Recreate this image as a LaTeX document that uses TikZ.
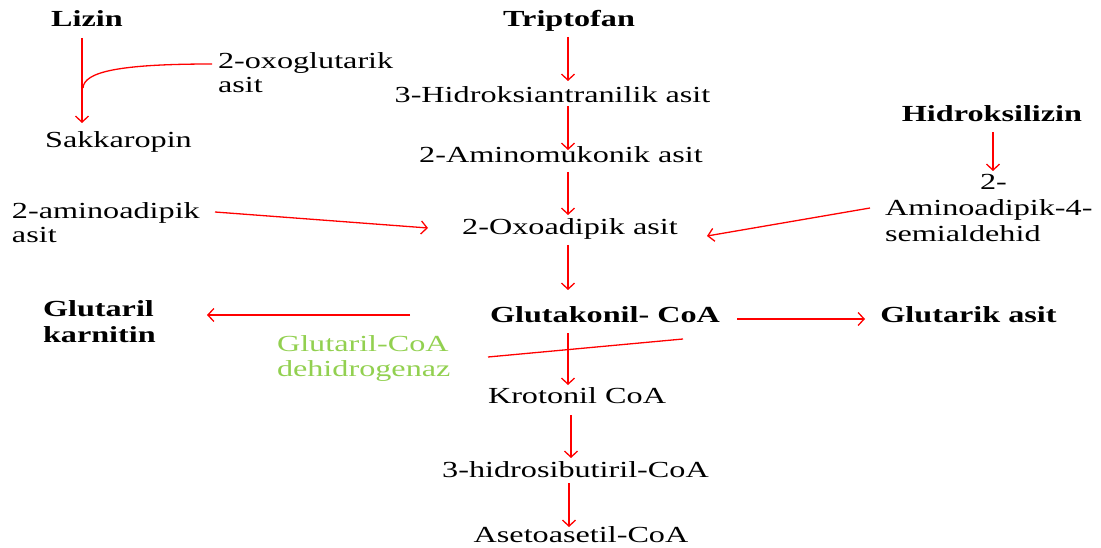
\documentclass[tikz,border=0pt]{standalone}
\usepackage{fontspec}
\setmainfont{Liberation Serif}[FakeStretch=1.4]
\usetikzlibrary{arrows.meta,calc}
\definecolor{arrred}{RGB}{255,0,0}
\definecolor{enzgreen}{RGB}{146,208,80}
\begin{document}
\begin{tikzpicture}[x=1pt,y=-1pt,
  txt/.style={inner sep=0pt,outer sep=0pt,font=\fontsize{23}{25}\selectfont,text height=16pt,text depth=5pt},
  mtxt/.style={inner sep=0pt,outer sep=0pt,font=\fontsize{23}{25}\selectfont,align=left},
  arr/.style={draw=arrred,line width=1.3pt,-{Straight Barb[length=6pt,width=13pt]}},
  ln/.style={draw=arrred,line width=1.3pt}]
\useasboundingbox (0,0) rectangle (1101,548);
% nodes
\node[txt,anchor=base] (lizin) at (87,27) {\bfseries Lizin};
\node[txt,anchor=base] (sakk) at (118.5,148) {Sakkaropin};
\node[mtxt,anchor=base west,font=\fontsize{23}{24}\selectfont] (oxog) at (218,93) {2-oxoglutarik\\asit};
\node[txt,anchor=base] (trip) at (569,27) {\bfseries Triptofan};
\node[txt,anchor=base] (h3) at (552.5,103) {3-Hidroksiantranilik asit};
\node[txt,anchor=base] (amino) at (561,163) {2-Aminomukonik asit};
\node[txt,anchor=base] (oxo) at (570,235) {2-Oxoadipik asit};
\node[txt,anchor=base] (gk) at (605,323) {\bfseries Glutakonil- CoA};
\node[txt,anchor=base] (krot) at (577,403) {Krotonil CoA};
\node[txt,anchor=base] (hsb) at (575.5,477) {3-hidrosibutiril-CoA};
\node[txt,anchor=base] (aset) at (581,542) {Asetoasetil-CoA};
\node[txt,anchor=base] (gtar) at (968.5,323) {\bfseries Glutarik asit};
\node[txt,anchor=base] (hlys) at (992,122) {\bfseries Hidroksilizin};
\node[mtxt,anchor=base west,font=\fontsize{23}{26}\selectfont] (sem) at (885,242) {\hspace*{95pt}2-\\Aminoadipik-4-\\semialdehid};
\node[mtxt,anchor=base west,font=\fontsize{23}{24}\selectfont] (aad) at (12,243) {2-aminoadipik\\asit};
\node[mtxt,anchor=base west,font=\fontsize{23}{26}\selectfont\bfseries] (gkar) at (43,342) {Glutaril\\karnitin};
\node[mtxt,anchor=base west,text=enzgreen] (enz) at (277,376) {Glutaril-CoA\\dehidrogenaz};
% junction on Lizin arrow
\coordinate (jn) at (83,88);
% connectors
\draw[arr] ($(lizin.base)+(-5,11)$) -- ($(sakk.base)+(-36.5,-25)$);
\draw[ln] ($(oxog.base west)+(-6,-29)$) .. controls ($(oxog.base west)+(-100,-29)$) and ($(jn)+(1,-16)$) .. (jn);
\draw[arr] ($(trip.base)+(-1,10)$) -- ($(h3.base)+(15.5,-22)$);
\draw[arr] ($(h3.base)+(15.5,3)$) -- ($(amino.base)+(7,-13)$);
\draw[arr] ($(amino.base)+(7,9)$) -- ($(oxo.base)+(-2,-20)$);
\draw[arr] ($(oxo.base)+(-2,10)$) -- ($(gk.base)+(-37,-33)$);
\draw[arr] ($(gk.base)+(-37,10)$) -- ($(krot.base)+(-9,-18)$);
\draw[arr] ($(krot.base)+(-6,12)$) -- ($(hsb.base)+(-4.5,-19)$);
\draw[arr] ($(hsb.base)+(-6.5,6)$) -- ($(aset.base)+(-12,-15)$);
\draw[arr] ($(hlys.base)+(1,10)$) -- ($(sem.base west)+(108,-71)$);
\draw[arr] ($(aad.base west)+(203,-31)$) -- ($(oxo.base)+(-142,-7)$);
\draw[arr] ($(sem.base west)+(-15,-34)$) -- ($(oxo.base)+(137,1)$);
\draw[arr] ($(gk.base)+(-195,-8)$) -- ($(gkar.base west)+(164,-27)$);
\draw[arr] ($(gk.base)+(132,-4)$) -- ($(gtar.base)+(-103.5,-4)$);
\draw[ln] ($(enz.base west)+(211,-19)$) -- ($(gk.base)+(78,16)$);
\end{tikzpicture}
\end{document}
